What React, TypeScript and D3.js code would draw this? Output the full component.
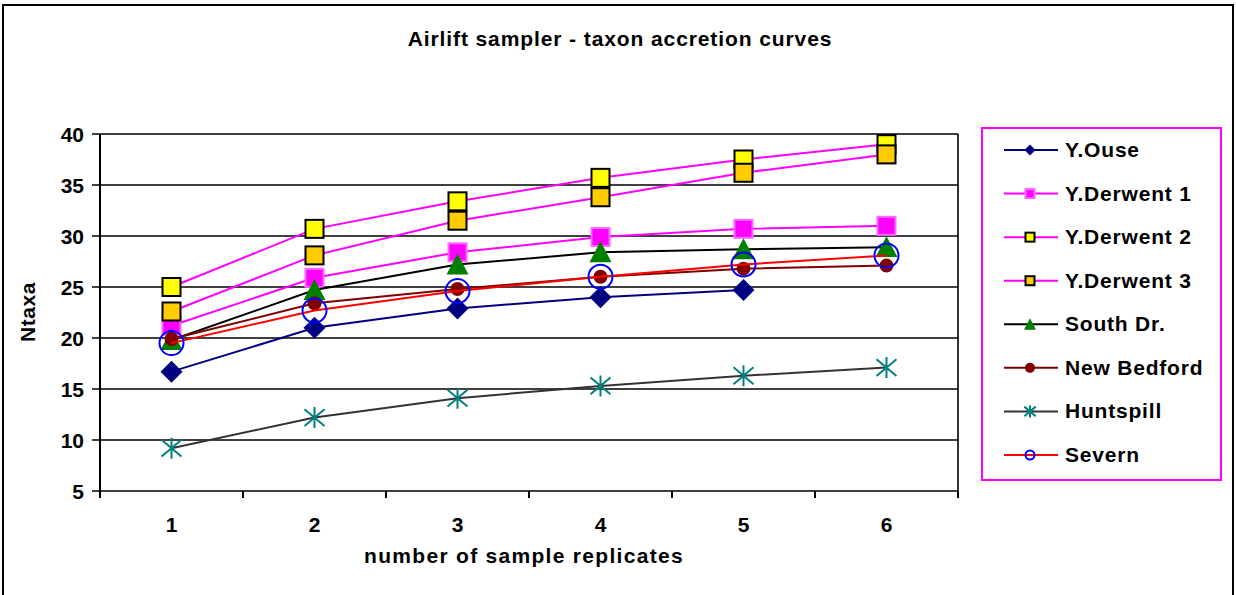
import React from "react"
import * as d3 from "d3"

// sample replicate numbers on the x axis
const replicates = ["1", "2", "3", "4", "5", "6"]
const yTicks = [5, 10, 15, 20, 25, 30, 35, 40]

// taxa counts, one array per site
const yOuse = [16.7, 21.0, 22.9, 24.0, 24.7]
const yDerwent1 = [21.2, 25.9, 28.4, 29.9, 30.7, 31.0]
const yDerwent2 = [25.0, 30.7, 33.4, 35.7, 37.5, 39.0]
const yDerwent3 = [22.6, 28.1, 31.5, 33.8, 36.2, 38.0]
const southDr = [19.8, 24.7, 27.2, 28.4, 28.7, 28.9]
const newBedford = [19.9, 23.4, 24.8, 26.0, 26.8, 27.1]
const huntspill = [9.2, 12.2, 14.1, 15.3, 16.3, 17.1]
const severn = [19.5, 22.7, 24.6, 26.0, 27.2, 28.1]

const seriesNames = ["Y.Ouse", "Y.Derwent 1", "Y.Derwent 2", "Y.Derwent 3", "South Dr.", "New Bedford", "Huntspill", "Severn"]
const seriesValues = [yOuse, yDerwent1, yDerwent2, yDerwent3, southDr, newBedford, huntspill, severn]

type Style = { line: string; marker: string; fill: string; stroke: string; size: number; legendSize: number }
const styles: Style[] = [
  { line: "#000080", marker: "diamond", fill: "#000080", stroke: "#000080", size: 22, legendSize: 11 },
  { line: "#FF00FF", marker: "square", fill: "#FF00FF", stroke: "#FF66FF", size: 18, legendSize: 9 },
  { line: "#FF00FF", marker: "square", fill: "#FFFF00", stroke: "#000000", size: 18, legendSize: 9 },
  { line: "#FF00FF", marker: "square", fill: "#FFCC00", stroke: "#000000", size: 18, legendSize: 9 },
  { line: "#000000", marker: "triangle", fill: "#008000", stroke: "#008000", size: 22, legendSize: 12 },
  { line: "#800000", marker: "circle", fill: "#800000", stroke: "#800000", size: 14, legendSize: 10 },
  { line: "#333333", marker: "star", fill: "none", stroke: "#008080", size: 21, legendSize: 12 },
  { line: "#FF0000", marker: "ring", fill: "none", stroke: "#0000FF", size: 26, legendSize: 11 },
]

const W = 1236
const H = 595
const font = "'Liberation Sans', Arial, sans-serif"

const x = d3.scaleBand<string>().domain(replicates).range([100, 958])
const y = d3.scaleLinear().domain([5, 40]).range([491, 134])
const cx = (c: string) => (x(c) as number) + x.bandwidth() / 2

const Marker = ({ s, px, py, size }: { s: Style; px: number; py: number; size: number }) => {
  const h = size / 2
  if (s.marker === "square")
    return <rect x={px - h} y={py - h} width={size} height={size} fill={s.fill} stroke={s.stroke} strokeWidth={2} />
  if (s.marker === "diamond")
    return <path d={`M${px},${py - h}L${px + h},${py}L${px},${py + h}L${px - h},${py}Z`} fill={s.fill} />
  if (s.marker === "triangle")
    return <path d={`M${px},${py - h}L${px + h},${py + h * 0.9}L${px - h},${py + h * 0.9}Z`} fill={s.fill} />
  if (s.marker === "circle") return <circle cx={px} cy={py} r={h} fill={s.fill} />
  if (s.marker === "ring") return <circle cx={px} cy={py} r={h - 1} fill="none" stroke={s.stroke} strokeWidth={2} />
  const d = h * 0.95
  const dy = h * 0.8
  return (
    <path
      d={`M${px},${py - h}L${px},${py + h}M${px - d},${py - dy}L${px + d},${py + dy}M${px - d},${py + dy}L${px + d},${py - dy}`}
      stroke={s.stroke}
      strokeWidth={2}
    />
  )
}

export default function App() {
  const line = d3
    .line<number>()
    .x((_, i) => cx(replicates[i]))
    .y((v) => y(v))

  const legendY = d3.scaleLinear().domain([0, 7]).range([150, 455])

  return (
    <svg width={W} height={H} style={{ position: "absolute", left: 0, top: 0, background: "#fff" }} fontFamily={font} fontWeight="bold">
      <rect x={3} y={5} width={1230} height={610} fill="#fff" stroke="#000" strokeWidth={2} />
      <text x={620} y={46} textAnchor="middle" fontSize={21} letterSpacing={0.9}>
        Airlift sampler - taxon accretion curves
      </text>

      {/* grid + axes */}
      {yTicks.map((t) => (
        <g key={t}>
          <line x1={92} x2={958} y1={y(t)} y2={y(t)} stroke="#000" strokeWidth={1.6} />
          <text x={84} y={y(t) + 8} textAnchor="end" fontSize={21}>
            {t}
          </text>
        </g>
      ))}
      <line x1={100} x2={100} y1={134} y2={491} stroke="#000" strokeWidth={2} />
      <line x1={958} x2={958} y1={134} y2={491} stroke="#000" strokeWidth={1.6} />
      {[...replicates.map((c) => x(c) as number), 958].map((b, i) => (
        <line key={i} x1={b} x2={b} y1={491} y2={498} stroke="#000" strokeWidth={2} />
      ))}
      {replicates.map((c) => (
        <text key={c} x={cx(c)} y={532} textAnchor="middle" fontSize={21}>
          {c}
        </text>
      ))}
      <text x={524} y={563} textAnchor="middle" fontSize={21} letterSpacing={1.3}>
        number of sample replicates
      </text>
      <text transform="translate(35,312) rotate(-90)" textAnchor="middle" fontSize={21} letterSpacing={0.6}>
        Ntaxa
      </text>

      {/* series */}
      {seriesValues.map((vals, si) => (
        <g key={si}>
          <path d={line(vals) || ""} fill="none" stroke={styles[si].line} strokeWidth={2} />
          {vals.map((v, i) => (
            <Marker key={i} s={styles[si]} px={cx(replicates[i])} py={y(v)} size={styles[si].size} />
          ))}
        </g>
      ))}

      {/* legend */}
      <rect x={982} y={128} width={239} height={352} fill="#fff" stroke="#FF00FF" strokeWidth={2} />
      {seriesNames.map((n, i) => (
        <g key={n}>
          <line x1={1004} x2={1058} y1={legendY(i)} y2={legendY(i)} stroke={styles[i].line} strokeWidth={2} />
          <Marker s={styles[i]} px={1030} py={legendY(i)} size={styles[i].legendSize} />
          <text x={1065} y={legendY(i) + 7} fontSize={21} letterSpacing={0.8}>
            {n}
          </text>
        </g>
      ))}
    </svg>
  )
}
